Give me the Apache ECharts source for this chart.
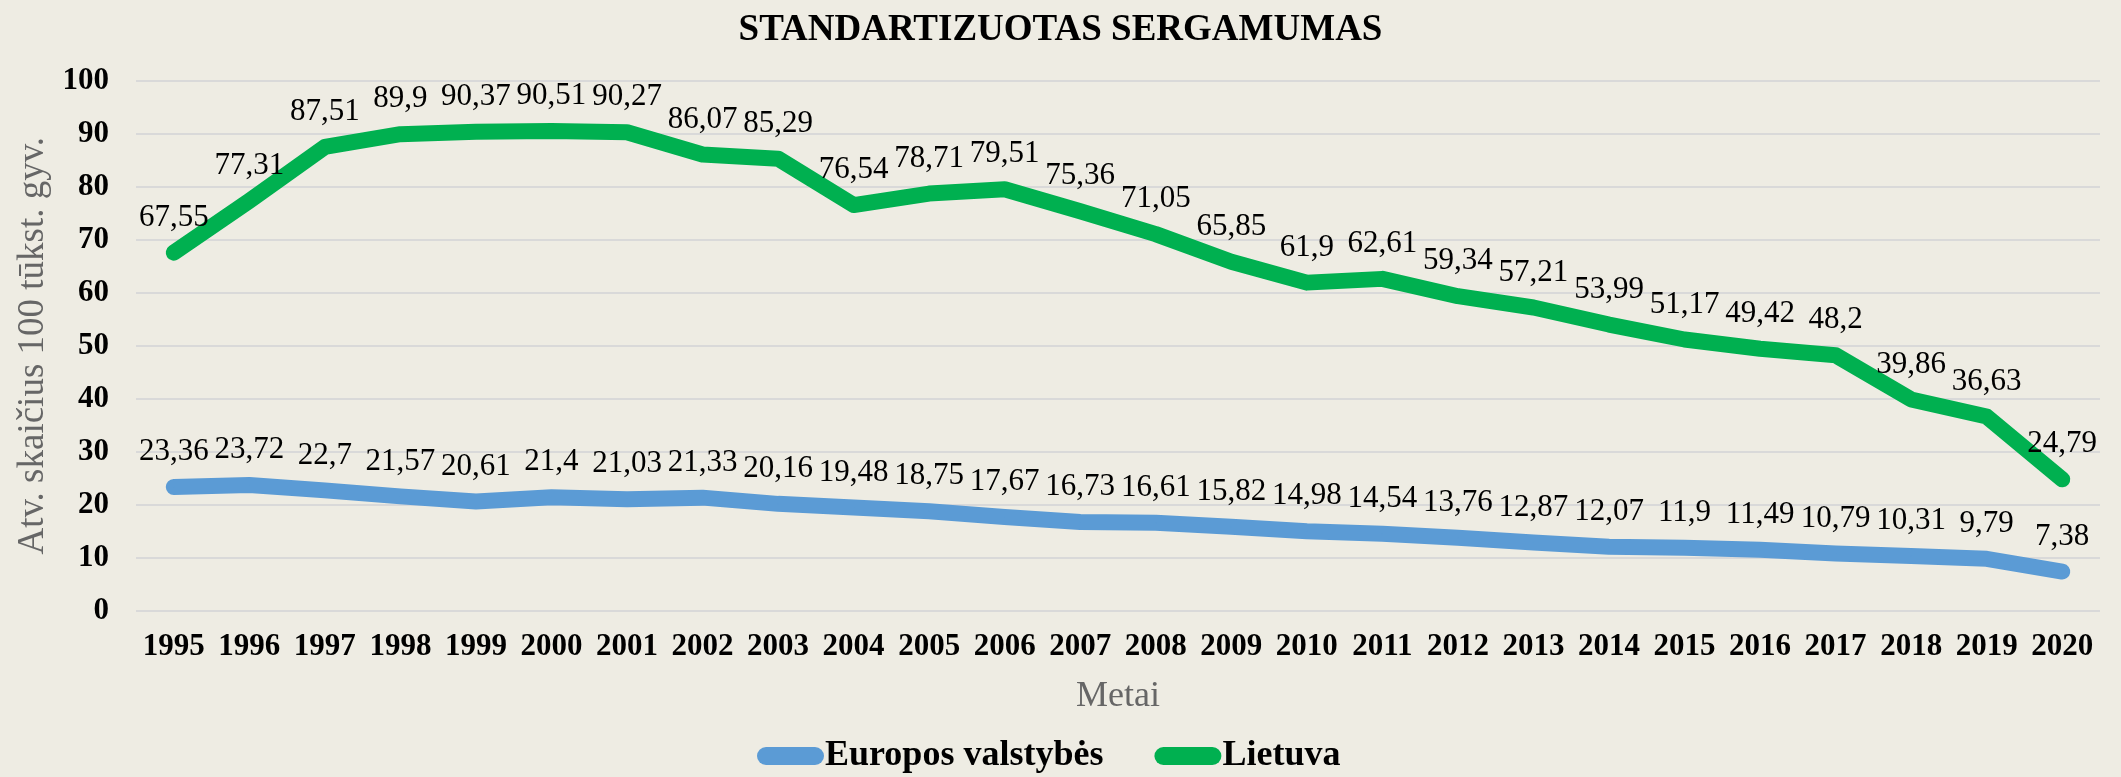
<!DOCTYPE html>
<html>
<head>
<meta charset="utf-8">
<script src="https://cdn.jsdelivr.net/npm/echarts@6/dist/echarts.min.js"></script>
<style>
html,body{margin:0;padding:0;background:#EEECE3;}
#chart{width:2121px;height:777px;}
</style>
</head>
<body>
<div id="chart"></div>
<script>
const years = ['1995','1996','1997','1998','1999','2000','2001','2002','2003','2004','2005','2006','2007','2008','2009','2010','2011','2012','2013','2014','2015','2016','2017','2018','2019','2020'];
const europeValues = [23.36,23.72,22.7,21.57,20.61,21.4,21.03,21.33,20.16,19.48,18.75,17.67,16.73,16.61,15.82,14.98,14.54,13.76,12.87,12.07,11.9,11.49,10.79,10.31,9.79,7.38];
const lithuaniaValues = [67.55,77.31,87.51,89.9,90.37,90.51,90.27,86.07,85.29,76.54,78.71,79.51,75.36,71.05,65.85,61.9,62.61,59.34,57.21,53.99,51.17,49.42,48.2,39.86,36.63,24.79];
const seriesNames = ['Europos valstybės','Lietuva'];
const titleText = 'STANDARTIZUOTAS SERGAMUMAS';
const yAxisName = 'Atv. skaičius 100 tūkst. gyv.';
const xAxisName = 'Metai';

const FONT = '"Liberation Serif", "Times New Roman", serif';
const CAPSULE = 'path://M9,0 L58,0 A9,9 0 0 1 58,18 L9,18 A9,9 0 0 1 9,0 Z';
const chart = echarts.init(document.getElementById('chart'), null, {renderer:'canvas'});
const fmt = p => String(p.value).replace('.', ',');
function lineSeries(name, data, color){
  return {
    name, type:'line', data,
    symbol:'circle', symbolSize:1, showSymbol:true,
    itemStyle:{color},
    lineStyle:{color, width:16, cap:'round', join:'round'},
    label:{show:true, position:'top', distance:19, formatter:fmt,
      fontFamily:FONT, fontSize:31, color:'#000'},
    emphasis:{disabled:true},
    animation:false
  };
}
chart.setOption({
  backgroundColor:'#EEECE3',
  animation:false,
  title:{text:titleText, left:'center', top:7,
    textStyle:{fontFamily:FONT, fontSize:37, fontWeight:'bold', color:'#000'}},
  grid:{left:136, right:21, top:80.7, bottom:166.3, containLabel:false},
  legend:{
    data:seriesNames, icon:CAPSULE, symbolKeepAspect:false,
    left:757, top:738, padding:0, itemGap:51,
    itemWidth:67, itemHeight:18,
    textStyle:{fontFamily:FONT, fontSize:36, fontWeight:'bold', color:'#000', padding:[0,0,0,-4]}
  },
  xAxis:{
    type:'category', data:years, boundaryGap:true,
    name:xAxisName, nameLocation:'middle', nameGap:68,
    nameTextStyle:{fontFamily:FONT, fontSize:36, color:'#666'},
    axisLine:{show:false}, axisTick:{show:false},
    axisLabel:{fontFamily:FONT, fontSize:31, fontWeight:'bold', color:'#000', margin:21, interval:0}
  },
  yAxis:{
    type:'value', min:0, max:100, interval:10,
    name:yAxisName, nameLocation:'middle', nameGap:82, nameRotate:90,
    nameTextStyle:{fontFamily:FONT, fontSize:37, color:'#666'},
    axisLine:{show:false}, axisTick:{show:false},
    axisLabel:{fontFamily:FONT, fontSize:31, fontWeight:'bold', color:'#000', margin:27},
    splitLine:{lineStyle:{color:'#D9D9D9', width:2}}
  },
  series:[
    lineSeries(seriesNames[0], europeValues, '#5B9BD5'),
    lineSeries(seriesNames[1], lithuaniaValues, '#00B050')
  ]
});
</script>
</body>
</html>
